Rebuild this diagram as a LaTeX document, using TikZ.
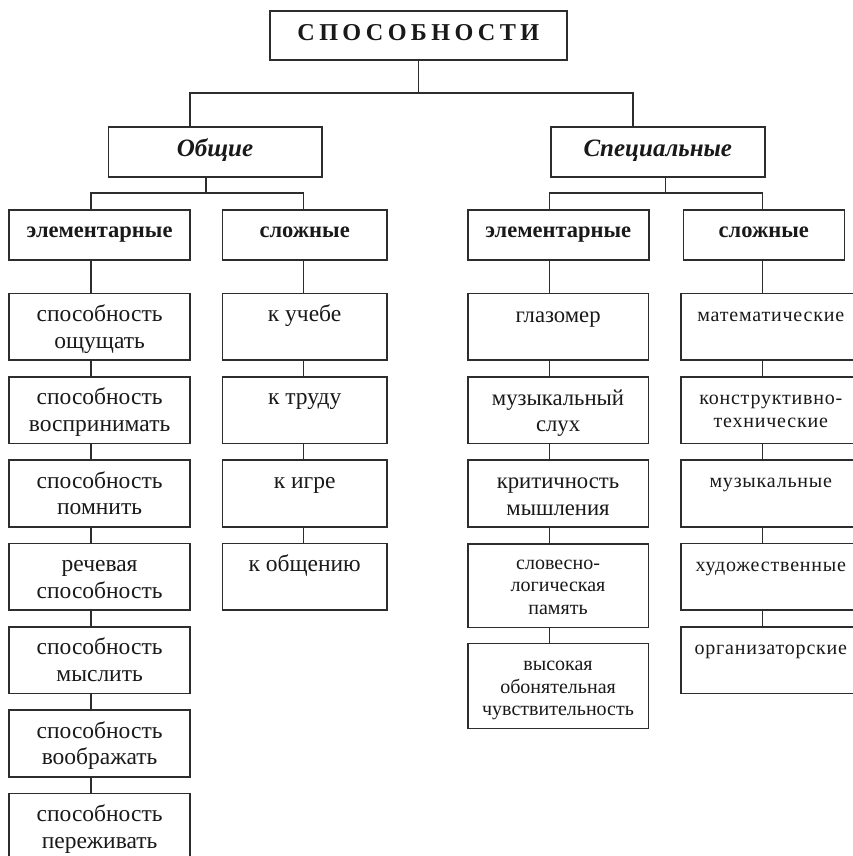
\documentclass[tikz,border=0pt]{standalone}
\usepackage{fontspec}
\setmainfont{Liberation Serif}
\newfontfamily\titlef[LetterSpace=18]{Liberation Serif}
\newfontfamily\spf[LetterSpace=4]{Liberation Serif}
\definecolor{linec}{RGB}{45,45,45}
\definecolor{textc}{RGB}{25,25,25}
% #1 height, #2 width, #3 font, #4 first baseline offset, #5 text
\newcommand{\cbody}[5]{\parbox[c][#1pt][t]{#2pt}{#3\centering\rule{0pt}{#4pt}#5\par}}
\newcommand{\ftitle}{\titlef\bfseries\fontsize{24.2}{28}\selectfont}
\newcommand{\fcat}{\bfseries\itshape\fontsize{25}{28}\selectfont}
\newcommand{\fsub}{\bfseries\fontsize{22.5}{26}\selectfont}
\newcommand{\fleft}{\fontsize{23.5}{26.5}\selectfont}
\newcommand{\fre}{\fontsize{22.7}{26.5}\selectfont}
\newcommand{\frs}{\fontsize{20}{22.5}\selectfont}
\newcommand{\frsp}{\spf\fontsize{20}{23.3}\selectfont}
\tikzset{
  cell/.style={draw=linec, line width=1.6pt, inner sep=0pt, anchor=north west, text=textc},
  conn/.style={draw=linec, line width=1.6pt}
}
\begin{document}
\begin{tikzpicture}[x=1pt,y=-1pt]
\useasboundingbox (0,0) rectangle (853,856);
\fill[white] (0,0) rectangle (853,856);
% level 0
\node[cell] (root) at (269,10) {\cbody{49.3}{297}{\ftitle}{29.3}{СПОСОБНОСТИ}};
% level 1
\node[cell] (obsch) at (107.5,126) {\cbody{50}{213.5}{\fcat}{30}{Общие}};
\node[cell] (spec) at (550,126) {\cbody{50}{214}{\fcat}{30}{Специальные}};
% level 2
\node[cell] (elemL) at (8.3,209.3) {\cbody{50}{181}{\fsub}{27.4}{элементарные}};
\node[cell] (slozhL) at (221.7,209.3) {\cbody{50}{164.3}{\fsub}{27.4}{сложные}};
\node[cell] (elemR) at (467,209.3) {\cbody{50}{181}{\fsub}{27.4}{элементарные}};
\node[cell] (slozhR) at (682.5,209.3) {\cbody{50}{161}{\fsub}{27.4}{сложные}};
% left elementary column
\node[cell] (L1) at (8.3,292.7) {\cbody{66.7}{181}{\fleft}{28}{способность\\ощущать}};
\node[cell] (L2) at (8.3,376.0) {\cbody{66.7}{181}{\fleft}{28}{способность\\воспринимать}};
\node[cell] (L3) at (8.3,459.3) {\cbody{66.7}{181}{\fleft}{28}{способность\\помнить}};
\node[cell] (L4) at (8.3,542.7) {\cbody{66.7}{181}{\fleft}{28}{речевая\\способность}};
\node[cell] (L5) at (8.3,626.0) {\cbody{66.7}{181}{\fleft}{28}{способность\\мыслить}};
\node[cell] (L6) at (8.3,709.3) {\cbody{66.7}{181}{\fleft}{28}{способность\\воображать}};
\node[cell] (L7) at (8.3,792.7) {\cbody{66.7}{181}{\fleft}{28}{способность\\переживать}};
% left complex column
\node[cell] (S1) at (221.7,292.7) {\cbody{66.7}{164.3}{\fleft}{28}{к учебе}};
\node[cell] (S2) at (221.7,376.0) {\cbody{66.7}{164.3}{\fleft}{28}{к труду}};
\node[cell] (S3) at (221.7,459.3) {\cbody{66.7}{164.3}{\fleft}{28}{к игре}};
\node[cell] (S4) at (221.7,542.7) {\cbody{66.7}{164.3}{\fleft}{28}{к общению}};
% right elementary column
\node[cell] (R1) at (467,292.7) {\cbody{66.7}{180.5}{\fre}{28.5}{глазомер}};
\node[cell] (R2) at (467,376.0) {\cbody{66.7}{180.5}{\fre}{28.5}{музыкальный\\слух}};
\node[cell] (R3) at (467,459.3) {\cbody{66.7}{180.5}{\fre}{28.5}{критичность\\мышления}};
\node[cell] (R4) at (467,543.3) {\cbody{83.4}{180.5}{\frs}{25}{словесно-\\логическая\\память}};
\node[cell] (R5) at (467,642.7) {\cbody{85}{180.5}{\frs}{27}{высокая\\обонятельная\\чувствительность}};
% right complex column
\node[cell] (T1) at (680,292.7) {\cbody{66.7}{180}{\frsp}{27.7}{математические}};
\node[cell] (T2) at (680,376.0) {\cbody{66.7}{180}{\frsp}{27.7}{конструктивно-\\технические}};
\node[cell] (T3) at (680,459.3) {\cbody{66.7}{180}{\frsp}{27.7}{музыкальные}};
\node[cell] (T4) at (680,542.7) {\cbody{66.7}{180}{\frsp}{27.7}{художественные}};
\node[cell] (T5) at (680,626.0) {\cbody{66.7}{180}{\frsp}{27.7}{организаторские}};
% junction coordinates
\coordinate (j1L) at (190,93);
\coordinate (j1R) at (633,93);
\coordinate (j2) at (206,193);
\coordinate (j2L) at (91,193);
\coordinate (j2R) at (303.5,193);
\coordinate (j3) at (665.6,193);
\coordinate (j3L) at (549.5,193);
\coordinate (j3R) at (762.5,193);
% tree connectors
\draw[conn] (root.south) -- (root.south |- j1L);
\draw[conn] (obsch.north -| j1L) -- (j1L) -- (j1R) -- (spec.north -| j1R);
\draw[conn] (obsch.south -| j2) -- (j2);
\draw[conn] (elemL.north -| j2L) -- (j2L) -- (j2R) -- (slozhL.north -| j2R);
\draw[conn] (spec.south -| j3) -- (j3);
\draw[conn] (elemR.north -| j3L) -- (j3L) -- (j3R) -- (slozhR.north -| j3R);
% column connectors
\foreach \a/\b in {elemL/L1,L1/L2,L2/L3,L3/L4,L4/L5,L5/L6,L6/L7}
  \draw[conn] (\a.south -| j2L) -- (\b.north -| j2L);
\foreach \a/\b in {slozhL/S1,S1/S2,S2/S3,S3/S4}
  \draw[conn] (\a.south -| j2R) -- (\b.north -| j2R);
\foreach \a/\b in {elemR/R1,R1/R2,R2/R3,R3/R4,R4/R5}
  \draw[conn] (\a.south -| j3L) -- (\b.north -| j3L);
\foreach \a/\b in {slozhR/T1,T1/T2,T2/T3,T3/T4,T4/T5}
  \draw[conn] (\a.south -| j3R) -- (\b.north -| j3R);
\end{tikzpicture}
\end{document}
